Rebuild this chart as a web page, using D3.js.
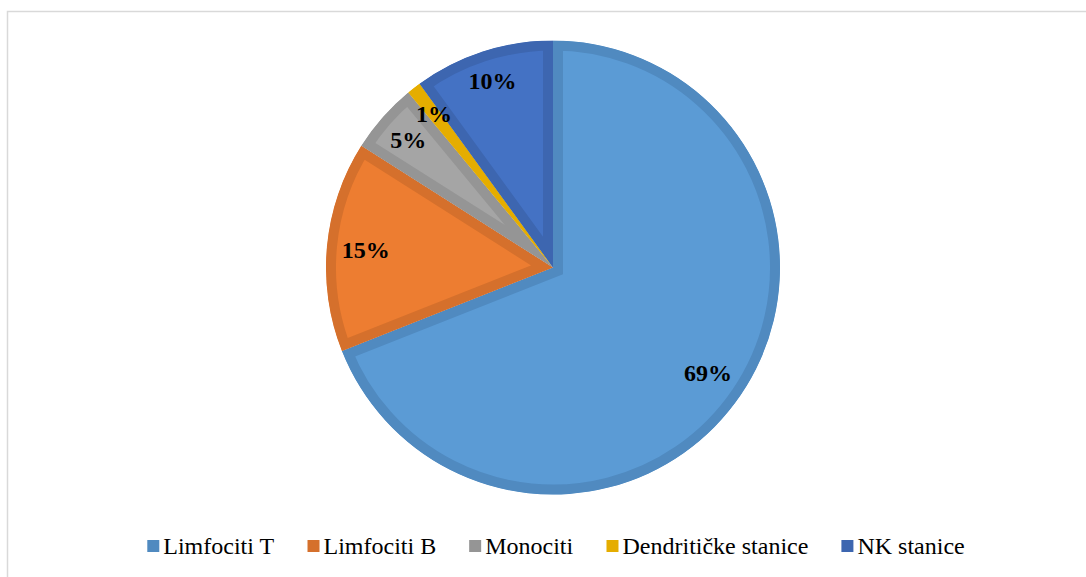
<!DOCTYPE html>
<html>
<head>
<meta charset="utf-8">
<script src="https://cdn.jsdelivr.net/npm/d3@7"></script>
<style>
  body { margin: 0; background: #fff; }
  svg { display: block; }
  svg text { font-family: "Liberation Serif", "Times New Roman", Times, "DejaVu Serif", serif; }
</style>
</head>
<body>
<div id="chart"></div>
<script>
// chart data
const categories = ["Limfociti T", "Limfociti B", "Monociti", "Dendritičke stanice", "NK stanice"];
const values = [69, 15, 5, 1, 10];
const fills = ["#5B9BD5", "#ED7D31", "#A5A5A5", "#FFC000", "#4472C4"];
const edges = ["#508AC0", "#D5702C", "#959595", "#E5AD00", "#3D66B0"];

const W = 1086, H = 577;
const cx = 553, cy = 267.5, R = 227;
const bevel = 10;

const svg = d3.select("#chart").append("svg")
    .attr("width", W)
    .attr("height", H);

// chart area frame (right/bottom edges fall outside the picture)
svg.append("rect")
    .attr("x", 7.5).attr("y", 11.5)
    .attr("width", 1100).attr("height", 600)
    .attr("fill", "none")
    .attr("stroke", "#d9d9d9")
    .attr("stroke-width", 1.5);

const data = categories.map((c, i) => ({ name: c, value: values[i], i }));

const pie = d3.pie().sort(null).value(d => d.value);
const arcs = pie(data);
const arc = d3.arc().innerRadius(0).outerRadius(R);

const defs = svg.append("defs");
const g = svg.append("g").attr("transform", `translate(${cx},${cy})`);

arcs.forEach((a, k) => {
    defs.append("clipPath").attr("id", "clip-" + k)
        .append("path").attr("d", arc(a));
});

// slices with inner darker band
g.selectAll(".slice")
    .data(arcs)
    .enter().append("path")
    .attr("class", "slice")
    .attr("d", arc)
    .attr("fill", d => fills[d.data.i])
    .attr("stroke", d => edges[d.data.i])
    .attr("stroke-width", bevel * 2)
    .attr("stroke-linejoin", "miter")
    .attr("clip-path", (d, k) => `url(#clip-${k})`);

// percentage labels, placed "inside end"
const total = d3.sum(values);
const labels = g.selectAll(".lbl")
    .data(arcs)
    .enter().append("text")
    .attr("class", "lbl")
    .attr("text-anchor", "middle")
    .attr("dominant-baseline", "central")
    .style("font-weight", "bold")
    .style("font-size", "24px")
    .style("fill", "#000")
    .text(d => Math.round(d.data.value / total * 100) + "%");

labels.each(function(d) {
    const bb = this.getBBox();
    const mid = (d.startAngle + d.endAngle) / 2;
    const ux = Math.sin(mid), uy = -Math.cos(mid);
    const ext = Math.abs(ux) * bb.width / 2 + Math.abs(uy) * 20 / 2;
    const r = R - 14 - ext;
    d3.select(this).attr("x", ux * r).attr("y", uy * r);
});

// legend
const legend = svg.append("g");
const items = legend.selectAll(".item")
    .data(data)
    .enter().append("g")
    .attr("class", "item");

items.append("rect")
    .attr("width", 12).attr("height", 12)
    .attr("y", -6)
    .attr("fill", d => edges[d.i]);

items.append("text")
    .attr("x", 16)
    .attr("dominant-baseline", "central")
    .style("font-size", "24px")
    .style("fill", "#000")
    .text(d => d.name);

let xPos = 0;
items.each(function() {
    const w = this.getBBox().width;
    d3.select(this).attr("transform", `translate(${xPos},0)`);
    xPos += w + 33;
});
const legendW = xPos - 33;
legend.attr("transform", `translate(${(149 + 963) / 2 - legendW / 2},546)`);
</script>
</body>
</html>
